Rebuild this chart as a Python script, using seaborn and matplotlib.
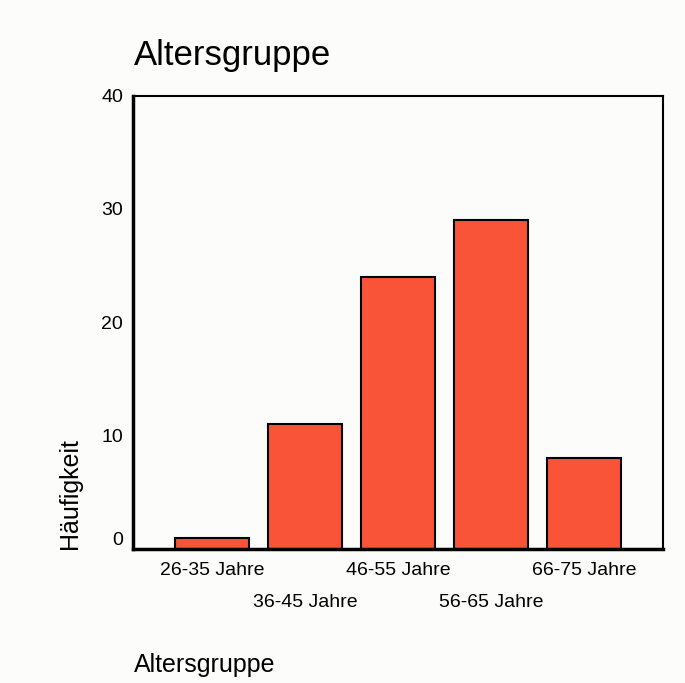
import numpy as np
import pandas as pd
import seaborn as sns
import matplotlib
matplotlib.use('Agg')
import matplotlib.pyplot as plt

groups = ['26-35 Jahre', '36-45 Jahre', '46-55 Jahre', '56-65 Jahre', '66-75 Jahre']
counts = [1, 11, 24, 29, 8]
y_ticks = [0, 10, 20, 30, 40]

sns.set_style('white')
plt.rcParams['font.family'] = ['Liberation Sans', 'DejaVu Sans']
plt.rcParams['text.color'] = 'black'
plt.rcParams['xtick.color'] = 'black'
plt.rcParams['ytick.color'] = 'black'

bg = '#fcfcfa'
fig = plt.figure(figsize=(6.85, 6.83), dpi=100, facecolor=bg)
ax = fig.add_axes([0.194, 0.196, 0.774, 0.664])
ax.set_facecolor(bg)

df = pd.DataFrame({'group': groups, 'count': counts})
sns.barplot(data=df, x='group', y='count', color='#f95437', saturation=1,
            edgecolor='black', linewidth=1.5, width=0.8, ax=ax)

ax.set_xlim(-0.85, 4.85)
ax.set_ylim(0, 40)
ax.set_yticks(y_ticks)
ax.set_yticklabels([str(t) for t in y_ticks], fontsize=14)
ax.get_yticklabels()[0].set_va('bottom')
ax.set_xticks(range(len(groups)))
ax.set_xticklabels([])
for i, g in enumerate(groups):
    off = -21 if i % 2 == 0 else -53
    ax.annotate(g, xy=(i, 0), xycoords=('data', 'axes fraction'),
                xytext=(0, off), textcoords='offset pixels',
                ha='center', va='center', fontsize=14)

ax.tick_params(axis='both', direction='out', length=3, width=2.5, pad=4)
for s in ax.spines.values():
    s.set_visible(True)
    s.set_color('black')
    s.set_linewidth(1.5)
ax.spines['left'].set_linewidth(2.5)
ax.spines['bottom'].set_linewidth(2.5)

ax.set_xlabel('')
ax.set_ylabel('')
fig.text(0.195, 0.905, 'Altersgruppe', fontsize=25, ha='left', va='baseline')
fig.text(0.102, 1 - 549 / 683, 'Häufigkeit', fontsize=18, rotation=90, ha='center', va='bottom')
fig.text(0.196, 0.016, 'Altersgruppe', fontsize=18, ha='left', va='baseline')

fig.savefig('out.png', dpi=100, facecolor=bg)
